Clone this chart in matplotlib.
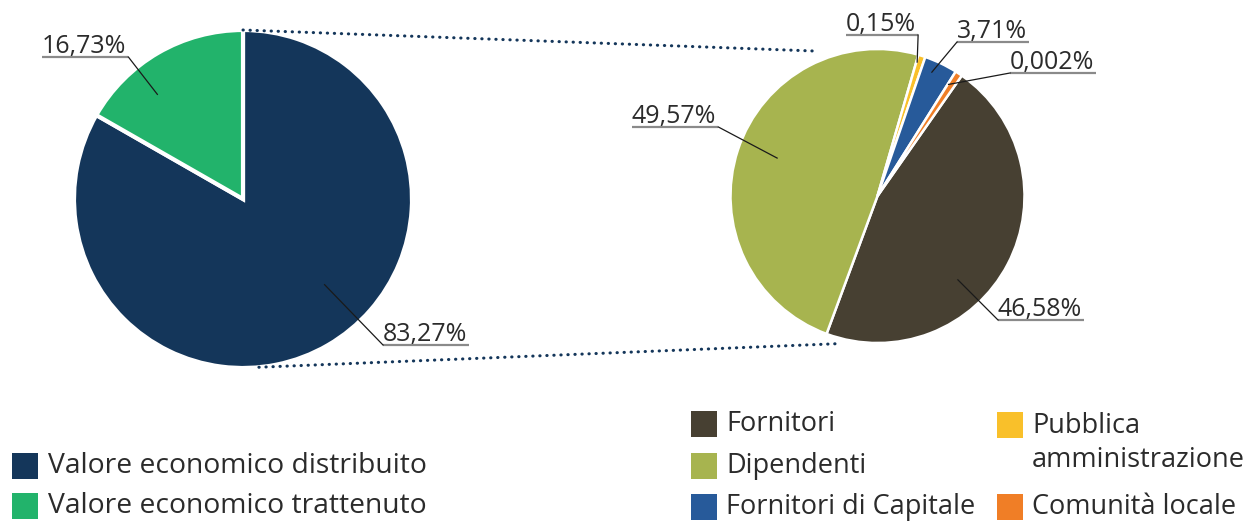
import numpy as np
import matplotlib.pyplot as plt
from matplotlib.patches import Rectangle

plt.rcParams['font.family'] = ['Open Sans', 'DejaVu Sans']

# data
outer_labels = ['Valore economico distribuito', 'Valore economico trattenuto']
outer_share = [83.27, 16.73]
outer_colors = ['#14365a', '#22b36b']

inner_labels = ['Fornitori', 'Dipendenti', 'Pubblica\namministrazione',
                'Fornitori di Capitale', 'Comunità locale']
inner_share = [46.58, 49.57, 0.15, 3.71, 0.002]
inner_text = ['46,58%', '49,57%', '0,15%', '3,71%', '0,002%']
outer_text = ['83,27%', '16,73%']
inner_colors = ['#474032', '#a7b44f', '#f9c02a', '#275a9a', '#f07e26']

W, H = 1250, 522
TXT = '#2b2b2b'

def Y(y):
    return H - y

fig = plt.figure(figsize=(12.5, 5.22), dpi=100)
ax = fig.add_axes([0, 0, 1, 1])

# pie geometry (pixels)
c1, r1 = (243, Y(199)), 169
c2, r2 = (877.5, Y(196)), 147

ax.pie(outer_share, colors=outer_colors, startangle=90, counterclock=False,
       center=c1, radius=r1,
       wedgeprops=dict(edgecolor='white', linewidth=3))

# tiny slices get a minimum visible width
shown = np.maximum(inner_share, 0.8)
ax.pie(shown, colors=inner_colors, startangle=55, counterclock=False,
       center=c2, radius=r2,
       wedgeprops=dict(edgecolor='white', linewidth=1.8))

ax.set_xlim(0, W)
ax.set_ylim(0, H)
ax.set_aspect('equal')
ax.axis('off')

def polar(c, r, ang, f):
    a = np.deg2rad(ang)
    return c[0] + f * r * np.cos(a), c[1] + f * r * np.sin(a)

# zoom connectors
for a1, f1, a2, f2 in [(90, 1.0, 114, 1.08), (-84.6, 1.0, -105, 1.04)]:
    p1 = polar(c1, r1, a1, f1)
    p2 = polar(c2, r2, a2, f2)
    ax.plot([p1[0], p2[0]], [p1[1], p2[1]], color='#14365a', lw=2.2,
            linestyle=(0, (0.1, 2.2)), dash_capstyle='round')

# labels: (text, center, radius, anchor angle, anchor frac, underline x, underline y, side)
label_layout = [
    (outer_text[1], c1, r1, 129.3, 0.80, 42, 57, 'right'),
    (outer_text[0], c1, r1, -46.4, 0.70, 383, 345, 'left'),
    (inner_text[1], c2, r2, 159.3, 0.73, 632, 127, 'right'),
    (inner_text[2], c2, r2, 73.5, 0.95, 846, 35, 'right'),
    (inner_text[3], c2, r2, 66.3, 0.92, 957, 42, 'left'),
    (inner_text[4], c2, r2, 57.5, 0.90, 1010, 73, 'left'),
    (inner_text[0], c2, r2, -46.2, 0.79, 998, 320, 'left'),
]

fig.canvas.draw()
rend = fig.canvas.get_renderer()
for txt, c, r, ang, f, ux, uy, side in label_layout:
    t = ax.text(ux, Y(uy) + 4, txt, fontsize=18, color=TXT,
                ha='left', va='baseline')
    bb = t.get_window_extent(renderer=rend)
    w = bb.width + 2
    ax.plot([ux, ux + w], [Y(uy), Y(uy)], color='#8a8a8a', lw=1.6,
            solid_capstyle='butt')
    ex = ux + w if side == 'right' else ux
    px, py = polar(c, r, ang, f)
    ax.plot([ex, px], [Y(uy), py], color='#1a1a1a', lw=0.9)

# legends
sq = 26
left_leg = [(12, 466), (12, 506)]
for (x, y), lab, col in zip(left_leg, outer_labels, outer_colors):
    ax.add_patch(Rectangle((x, Y(y) - sq / 2), sq, sq, color=col, lw=0))
    ax.text(x + 36, Y(y), lab, fontsize=20.3, color=TXT, va='center', ha='left')

right_leg = [(691, 424), (691, 466), (997, 443), (691, 507), (997, 507)]
for (x, y), lab, col in zip(right_leg, inner_labels, inner_colors):
    ax.text(x + 35, Y(y), lab, fontsize=19.5, color=TXT, va='center', ha='left',
            linespacing=1.3)
    if '\n' in lab:
        y = y - 18
    ax.add_patch(Rectangle((x, Y(y) - sq / 2), sq, sq, color=col, lw=0))

fig.savefig('out.png', dpi=100)
